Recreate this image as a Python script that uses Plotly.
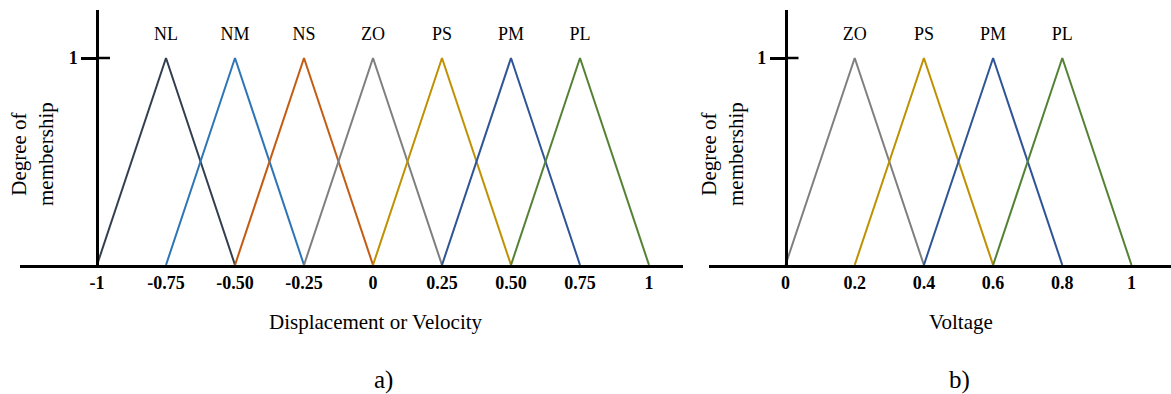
import plotly.graph_objects as go

W, H = 1171, 394
FONT = "Liberation Serif, Times New Roman, serif"

# ---- data: panel a) ----
a_labels = ["NL", "NM", "NS", "ZO", "PS", "PM", "PL"]
a_start = [-1.0, -0.75, -0.5, -0.25, 0.0, 0.25, 0.5]
a_peak = [-0.75, -0.5, -0.25, 0.0, 0.25, 0.5, 0.75]
a_end = [-0.5, -0.25, 0.0, 0.25, 0.5, 0.75, 1.0]
a_colors = ["#333f50", "#2e75b6", "#c55a11", "#7f7f7f", "#bf9000", "#2f5597", "#548235"]
a_tickvals = [-1, -0.75, -0.5, -0.25, 0, 0.25, 0.5, 0.75, 1]
a_ticktext = ["-1", "-0.75", "-0.50", "-0.25", "0", "0.25", "0.50", "0.75", "1"]

# ---- data: panel b) ----
b_labels = ["ZO", "PS", "PM", "PL"]
b_start = [0.0, 0.2, 0.4, 0.6]
b_peak = [0.2, 0.4, 0.6, 0.8]
b_end = [0.4, 0.6, 0.8, 1.0]
b_colors = ["#7f7f7f", "#bf9000", "#2f5597", "#548235"]
b_tickvals = [0, 0.2, 0.4, 0.6, 0.8, 1]
b_ticktext = ["0", "0.2", "0.4", "0.6", "0.8", "1"]

membership = [0, 1, 0]
label_level = 1.11

fig = go.Figure()

def add_panel(labels, starts, peaks, ends, colors, xa, ya):
    for lab, s, p, e, c in zip(labels, starts, peaks, ends, colors):
        fig.add_trace(go.Scatter(x=[s, p, e], y=membership, mode="lines",
                                 line=dict(color=c, width=2), xaxis=xa, yaxis=ya,
                                 showlegend=False, hoverinfo="skip", cliponaxis=False))
    fig.add_trace(go.Scatter(x=peaks, y=[label_level] * len(peaks), mode="text", text=labels,
                             textfont=dict(family=FONT, size=18, color="black"),
                             xaxis=xa, yaxis=ya, showlegend=False, hoverinfo="skip",
                             cliponaxis=False))

add_panel(a_labels, a_start, a_peak, a_end, a_colors, "x", "y")
add_panel(b_labels, b_start, b_peak, b_end, b_colors, "x2", "y2")

y_bot, y_top = 265, 10
dom_y = [1 - y_bot / H, 1 - y_top / H]
yrange = [0, (y_bot - y_top) / 207]

# panel a geometry: x=-1 at px 97, 276 px / unit
ax_l, ax_r = 20, 683
a_x0px, a_ppu = 97, 276
a_range = [-1 + (ax_l - a_x0px) / a_ppu, -1 + (ax_r - a_x0px) / a_ppu]
# panel b geometry: x=0 at px 785.5, 346 px / unit
bx_l, bx_r = 709, 1171
b_x0px, b_ppu = 785.5, 346
b_range = [(bx_l - b_x0px) / b_ppu, (bx_r - b_x0px) / b_ppu]

xcommon = dict(showline=True, linecolor="black", linewidth=2.5, showgrid=False, zeroline=False,
               ticks="", tickfont=dict(family=FONT, size=18, color="black", weight="bold"),
               ticklabelstandoff=0, tickmode="array")
ycommon = dict(showline=True, linecolor="black", linewidth=2.5, showgrid=False, zeroline=False,
               ticks="outside", ticklen=15, tickwidth=2.5, tickcolor="black",
               tickvals=[1], ticktext=["1"], anchor="free", range=yrange, domain=dom_y,
               tickfont=dict(family=FONT, size=18, color="black", weight="bold"))

fig.update_layout(
    width=W, height=H, margin=dict(l=0, r=0, t=0, b=0),
    paper_bgcolor="white", plot_bgcolor="white",
    font=dict(family=FONT, color="black"),
    xaxis=dict(domain=[ax_l / W, ax_r / W], range=a_range, anchor="y",
               tickvals=a_tickvals, ticktext=a_ticktext, **xcommon),
    yaxis=dict(position=a_x0px / W, **ycommon),
    xaxis2=dict(domain=[bx_l / W, bx_r / W], range=b_range, anchor="y2",
                tickvals=b_tickvals, ticktext=b_ticktext, **xcommon),
    yaxis2=dict(position=b_x0px / W, **ycommon),
)

# inner half of the crossing tick at y=1
for xr, yr, xa in [("x", "y", -1), ("x2", "y2", 0)]:
    fig.add_shape(type="line", xref=xr, yref=yr, xsizemode="pixel", xanchor=xa,
                  x0=0, x1=13, y0=1, y1=1, line=dict(color="black", width=2.5))

def ann(text, xpx, ypx, size, angle=0):
    fig.add_annotation(text=text, x=xpx / W, y=1 - ypx / H, xref="paper", yref="paper",
                       showarrow=False, xanchor="center", yanchor="middle", textangle=angle,
                       font=dict(family=FONT, size=size, color="black"))

ann("Displacement or Velocity", 375.5, 322, 21)
ann("Voltage", 961, 322, 21)
ann("a)", 383, 380, 25)
ann("b)", 959, 380, 25)
ann("Degree of<br>membership", 33, 154, 21, -90)
ann("Degree of<br>membership", 723, 154, 21, -90)

fig.write_html("out.html")
